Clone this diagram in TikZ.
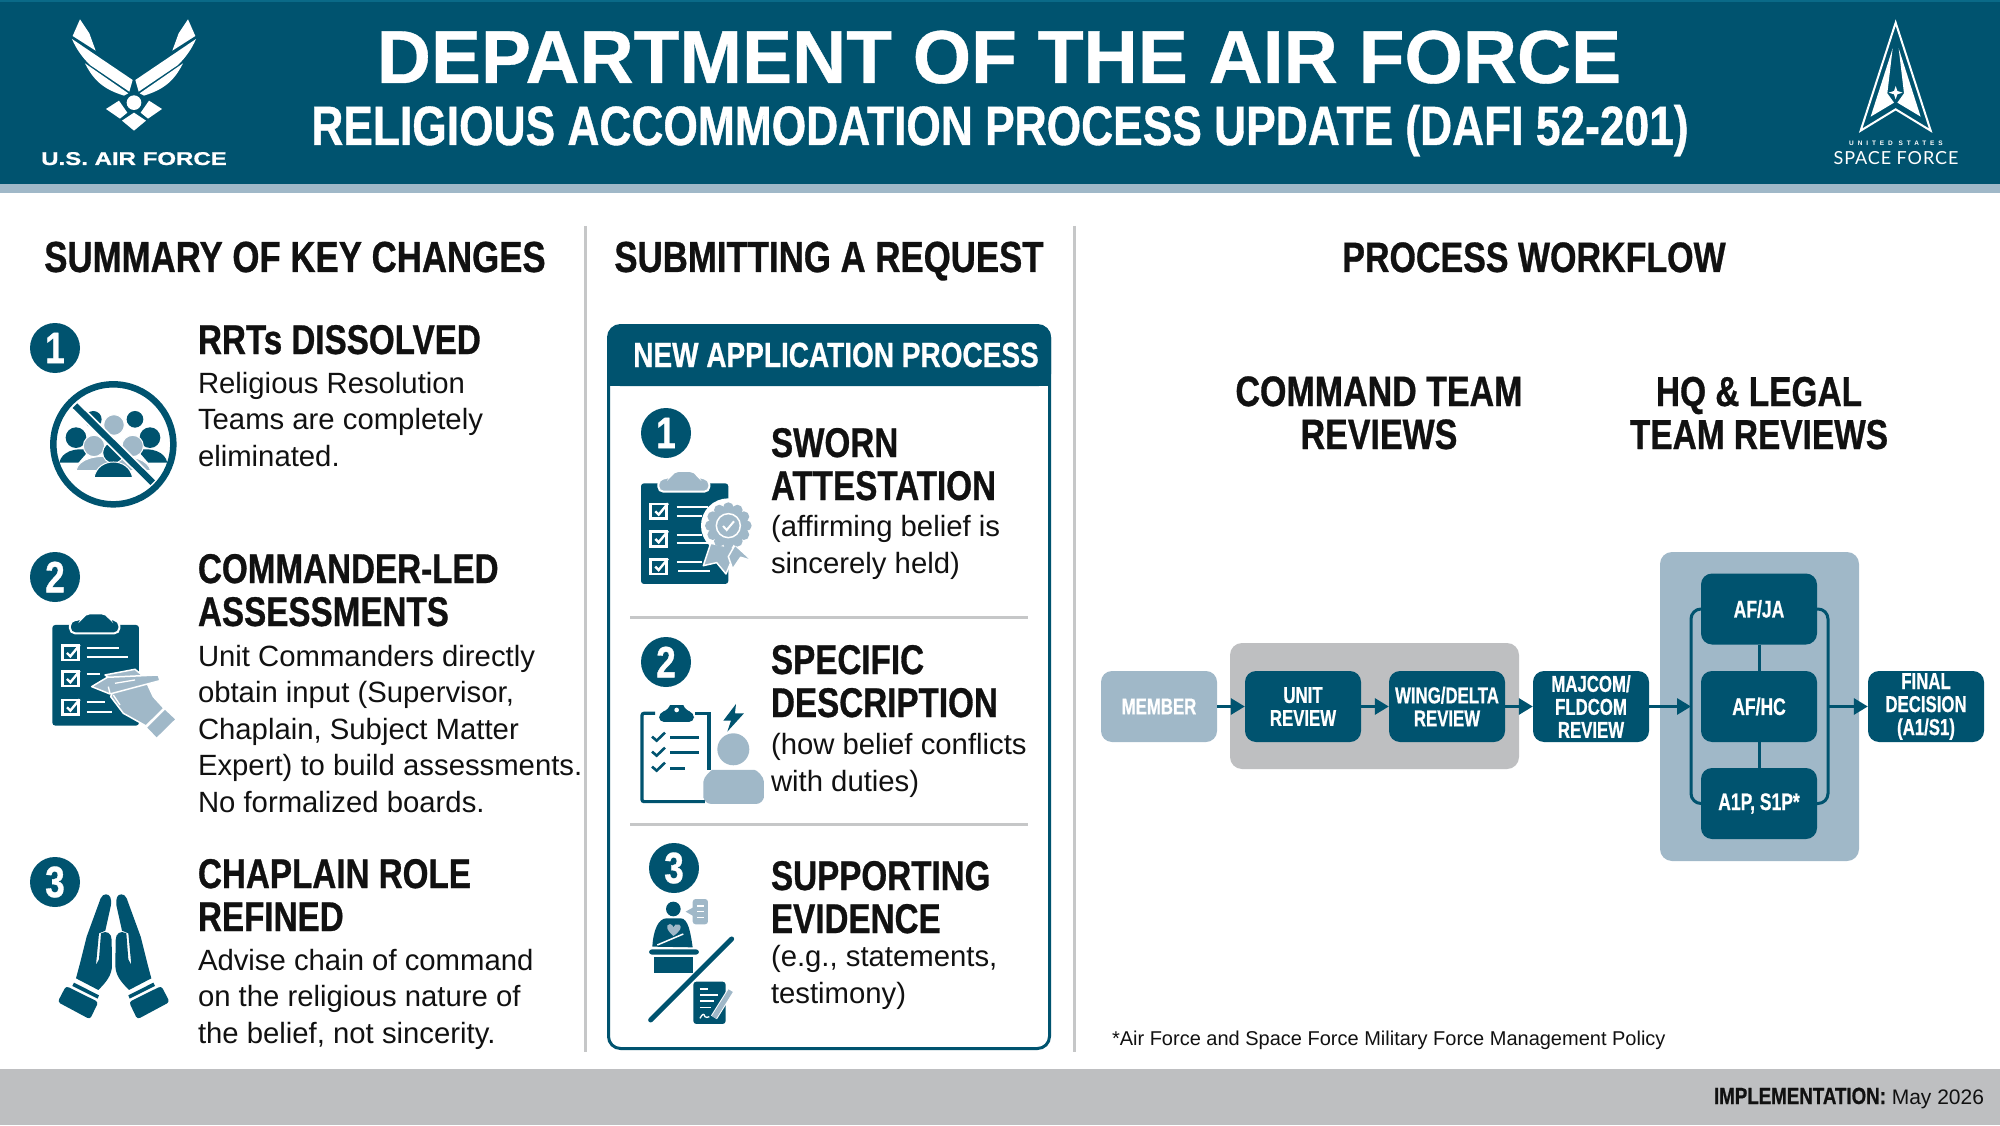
\documentclass[tikz,border=0pt]{standalone}
\usepackage{fontspec}
\usetikzlibrary{arrows.meta}
\setmainfont{Liberation Sans}[BoldFeatures={FakeBold=0.5}]
\newfontfamily\cond[FakeStretch=0.8,BoldFeatures={FakeBold=0.7}]{Liberation Sans}
\newfontfamily\condf[FakeStretch=0.73,BoldFeatures={FakeBold=0.7}]{Liberation Sans}
\newfontfamily\afwide[FakeStretch=1.3,BoldFeatures={FakeBold=0.8}]{Liberation Sans}
\newfontfamily\sfwide[LetterSpace=60]{Liberation Sans}
\newfontfamily\spf[LetterSpace=5]{Lato}
\definecolor{dk}{HTML}{00536F}
\definecolor{dktop}{HTML}{0A6A88}
\definecolor{lt}{HTML}{A0B8C8}
\definecolor{gr}{HTML}{BEBFC1}
\definecolor{sep}{HTML}{C6C7C8}
\definecolor{ink}{HTML}{111111}
\newcommand{\fs}[2]{\fontsize{#1}{#2}\selectfont}
\tikzset{
  txt/.style={inner sep=0pt,outer sep=0pt,text=ink},
  sectionhead/.style={txt,font=\cond\bfseries\fs{43.5}{44},anchor=base},
  subhead/.style={txt,font=\cond\bfseries\fs{41.5}{43},align=left,anchor=base west},
  colhead/.style={txt,font=\cond\bfseries\fs{42.5}{43},align=center,anchor=base},
  bodytext/.style={txt,font=\fs{29.3}{36.4},align=left,anchor=base west},
  badge/.style={circle,fill=dk,minimum size=50pt,inner sep=0pt,text=white,font=\cond\bfseries\fs{44}{44}},
  flowbox/.style={rectangle,rounded corners=11pt,fill=dk,minimum width=116pt,minimum height=71pt,inner sep=0pt,text=white,align=center,font=\condf\bfseries\fs{23}{23}},
  panel/.style={rectangle,rounded corners=12pt,inner sep=0pt},
  link/.style={draw=dk,line width=3pt},
  flow/.style={link,-{Triangle[length=14pt,width=16pt]}},
  thin white/.style={draw=white,line width=2.4pt},
  iconline/.style={draw=white,line width=2.2pt},
}
\newcommand{\handshape}{%
  \fill[dk] (228,133) .. controls (240,133) and (245,145) .. (243,165) -- (226,242) -- (207,250) -- (198,345) -- (207,328) -- (213,250) .. controls (230,240) and (245,250) .. (245,270) -- (246,345) .. controls (246,375) and (230,395) .. (205,420) -- (138,385) -- (150,340) -- (170,260) -- (212,145) .. controls (216,136) and (222,133) .. (228,133) -- cycle;
  \fill[dk] (132,398) -- (207,436) -- (203,446) -- (127,408) -- cycle;
  \fill[dk,rounded corners=3pt] (108,408) -- (205,456) -- (180,508) -- (83,456) -- cycle;
}
\newcommand{\checkbox}[2]{%
  \draw[thin white] (#1,#2) rectangle ++(48,44);
  \draw[draw=white,line width=2.4pt] (#1+14,#2+22) -- (#1+24,#2+32) -- (#1+52,#2-2);
}
\begin{document}
\begin{tikzpicture}[x=1pt,y=-1pt]
\useasboundingbox (0,0) rectangle (2000,1126);
\fill[white] (0,0) rectangle (2000,1126);
% header and footer
\fill[dk] (0,0) rectangle (2000,184);
\fill[dktop] (0,0) rectangle (2000,2);
\fill[lt] (0,184) rectangle (2000,193);
\fill[gr] (0,1069) rectangle (2000,1125);
\node[txt,text=white,font=\bfseries\fs{75}{75},anchor=base] (title) at (999,83) {DEPARTMENT OF THE AIR FORCE};
\node[txt,text=white,font=\cond\bfseries\fs{55.4}{56},anchor=base] (subtitle) at (1000,145) {RELIGIOUS ACCOMMODATION PROCESS UPDATE (DAFI 52-201)};
% air force logo
\foreach \flip/\sh in {1/0,-1/268}{
\begin{scope}[shift={(\sh,0)},xscale=\flip*0.3333,yscale=0.3333]
  \fill[white] (240,58) -- (268,100) -- (287,152) -- (218,108) -- cycle;
  \fill[white] (216,117) -- (398,240) -- (388,275) -- (270,195) .. controls (245,170) and (228,145) .. (216,117) -- cycle;
  \fill[white] (255,190) -- (385,280) -- (372,287) .. controls (320,270) and (285,250) .. (255,190) -- cycle;
  \fill[white] (318,327) -- (357,302) -- (382,338) -- (360,356) -- cycle;
\end{scope}}
\begin{scope}[xscale=0.3333,yscale=0.3333]
  \fill[white] (402,308) circle (22);
  \fill[white] (402,338) -- (438,362) -- (402,392) -- (366,362) -- cycle;
\end{scope}
\node[txt,text=white,font=\afwide\bfseries\fs{18.5}{19},anchor=base] (aflabel) at (134,165) {U.S. AIR FORCE};
% space force logo
\begin{scope}[shift={(1780,0)},scale=0.3333]
  \draw[white,line width=2pt,line join=miter] (347,68) -- (452,392) -- (347,328) -- (242,392) -- cycle;
  \fill[white] (338,145) -- (272,350) -- (342,308) -- (322,280) -- cycle;
  \fill[white] (356,145) -- (422,350) -- (352,308) -- (372,280) -- cycle;
  \fill[white] (347,258) -- (352,273) -- (368,278) -- (352,283) -- (347,298) -- (342,283) -- (326,278) -- (342,273) -- cycle;
\end{scope}
\node[txt,text=white,font=\sfwide\bfseries\fs{6.5}{7},anchor=base] (sflabel) at (1896,146) {UNITED STATES};
\node[txt,text=white,font=\spf\fs{18}{18},anchor=base] (sfname) at (1896,165) {SPACE FORCE};
% separators
\draw[sep,line width=3pt] (585,226) -- (585,1052);
\draw[sep,line width=3pt] (1074,226) -- (1074,1052);
% section heads
\node[sectionhead] (h1) at (295,272) {SUMMARY OF KEY CHANGES};
\node[sectionhead] (h2) at (829,272) {SUBMITTING A REQUEST};
\node[sectionhead,font=\cond\bfseries\fs{42.5}{44}] (h3) at (1534,272) {PROCESS WORKFLOW};
% left column
\node[badge] (b1) at (55,348) {1};
\node[subhead] (c1) at (198,354) {RRTs DISSOLVED};
\node[bodytext] (t1) at (198,466) {Religious Resolution\\Teams are completely\\eliminated.};
\node[badge] (b2) at (55,577) {2};
\node[subhead] (c2) at (198,626) {COMMANDER-LED\\ASSESSMENTS};
\node[bodytext] (t2) at (198,812) {Unit Commanders directly\\obtain input (Supervisor,\\Chaplain, Subject Matter\\Expert) to build assessments.\\No formalized boards.};
\node[badge] (b3) at (55,882) {3};
\node[subhead] (c3) at (198,931) {CHAPLAIN ROLE\\REFINED};
\node[bodytext] (t3) at (198,1043) {Advise chain of command\\on the religious nature of\\the belief, not sincerity.};
% icon: no groups
\begin{scope}[shift={(20,300)},scale=0.3333]
  \fill[dk] (220,358) circle (25) (345,358) circle (25);
  \fill[dk] (168,413) circle (31) (390,413) circle (31);
  \fill[dk] (118,488) .. controls (125,455) and (165,442) .. (208,450) -- (175,488) -- cycle;
  \fill[dk] (442,488) .. controls (435,455) and (395,442) .. (352,450) -- (385,488) -- cycle;
  \filldraw[lt,draw=white,line width=1pt] (282,375) circle (31);
  \filldraw[lt,draw=white,line width=1pt] (168,512) .. controls (175,475) and (230,465) .. (280,470) .. controls (340,465) and (385,480) .. (392,512) -- cycle;
  \filldraw[lt,draw=white,line width=1pt] (222,438) circle (32) (338,438) circle (32);
  \filldraw[dk,draw=white,line width=1pt] (280,458) circle (32);
  \filldraw[dk,draw=white,line width=1pt] (222,533) .. controls (228,500) and (255,486) .. (280,486) .. controls (305,486) and (332,500) .. (338,533) -- cycle;
  \draw[white,line width=10pt] (165,317) -- (398,548);
  \draw[dk,line width=6.5pt] (165,317) -- (398,548);
  \draw[dk,line width=6.5pt] (280,433) circle (180);
\end{scope}
% icon: clipboard and hand
\begin{scope}[shift={(20,300)},scale=0.3333]
  \fill[dk,rounded corners=3pt] (97,975) rectangle (357,1277);
  \filldraw[dk,draw=white,line width=2pt,rounded corners=5pt] (150,1000) -- (150,962) -- (185,958) -- (195,940) -- (260,940) -- (270,958) -- (298,962) -- (298,1000) -- cycle;
  \checkbox{127}{1037}
  \checkbox{127}{1115}
  \checkbox{127}{1200}
  \draw[iconline] (200,1043) -- (297,1043) (200,1070) -- (325,1070) (200,1122) -- (240,1122) (200,1207) -- (255,1207) (200,1235) -- (275,1235);
  \filldraw[lt,draw=white,line width=1.5pt,line join=round] (255,1125) -- (345,1108) -- (372,1130) -- (400,1190) -- (432,1225) -- (378,1278) -- (310,1240) -- (272,1190) -- (290,1150) -- cycle;
  \filldraw[lt,draw=white,line width=1.5pt,line join=round] (215,1160) -- (262,1132) -- (415,1125) -- (420,1142) -- (270,1182) -- cycle;
  \draw[white,line width=1.3pt] (285,1150) -- (345,1140) (280,1185) -- (300,1215) (265,1160) -- (270,1180);
  \fill[lt] (435,1230) -- (465,1258) -- (410,1312) -- (382,1283) -- cycle;
\end{scope}
% icon: praying hands
\begin{scope}[shift={(30,850)},scale=0.3333]\handshape\end{scope}
\begin{scope}[shift={(197.33,850)},xscale=-0.3333,yscale=0.3333]\handshape\end{scope}
% middle panel
\node[panel,draw=dk,line width=3pt,fill=white,minimum width=441pt,minimum height=723pt] (apppanel) at (829,687) {};
\fill[dk,rounded corners=12pt] (608,325) rectangle (1051,386);
\fill[dk] (608,360) rectangle (1051,386);
\node[txt,text=white,font=\cond\bfseries\fs{35}{36},anchor=base] (apphead) at (836,367) {NEW APPLICATION PROCESS};
\draw[sep,line width=3pt] (630,617) -- (1028,617);
\draw[sep,line width=3pt] (630,824) -- (1028,824);
\node[badge] (m1) at (666,433) {1};
\node[subhead] (s1) at (771,500) {SWORN\\ATTESTATION};
\node[bodytext] (d1) at (771,573) {(affirming belief is\\sincerely held)};
\node[badge] (m2) at (666,662) {2};
\node[subhead] (s2) at (771,717) {SPECIFIC\\DESCRIPTION};
\node[bodytext] (d2) at (771,791) {(how belief conflicts\\with duties)};
\node[badge] (m3) at (674,868) {3};
\node[subhead] (s3) at (771,933) {SUPPORTING\\EVIDENCE};
\node[bodytext] (d3) at (771,1003) {(e.g., statements,\\testimony)};
% icon: sworn attestation
\begin{scope}[shift={(620,400)},scale=0.3333]
  \fill[dk,rounded corners=3pt] (63,250) rectangle (325,552);
  \filldraw[lt,draw=white,line width=2pt,rounded corners=5pt] (115,275) -- (115,238) -- (150,232) -- (160,213) -- (225,213) -- (235,232) -- (268,238) -- (268,275) -- cycle;
  \checkbox{92}{312}
  \checkbox{92}{395}
  \checkbox{92}{478}
  \draw[iconline] (170,322) -- (265,322) (170,347) -- (245,347) (170,405) -- (245,405) (170,430) -- (265,430) (170,487) -- (245,487) (175,512) -- (270,512);
  \fill[white] (325,377) circle (82);
  \filldraw[lt,draw=white,line width=1.5pt,line join=round] (272,430) -- (250,497) -- (290,488) -- (318,522) -- (350,445) -- cycle;
  \filldraw[lt,draw=white,line width=1.5pt,line join=round] (345,435) -- (396,482) -- (362,472) -- (338,507) -- (325,470) -- cycle;
  \foreach \a in {0,30,...,330}{\fill[lt] (325,377) ++(\a:54) circle (16);}
  \fill[lt] (325,377) circle (56);
  \draw[white,line width=1.5pt] (325,377) circle (36);
  \draw[white,line width=2pt] (309,378) -- (320,390) -- (342,364);
\end{scope}
% icon: specific description
\begin{scope}[shift={(620,400)},scale=0.3333]
  \draw[dk,line width=3.2pt,rounded corners=2pt] (105,940) -- (66,940) -- (66,1205) -- (255,1205);
  \draw[dk,line width=3.2pt] (225,940) -- (267,940) -- (267,1110);
  \fill[dk,rounded corners=5pt] (117,966) -- (117,938) -- (145,930) .. controls (150,915) and (190,915) .. (195,930) -- (222,938) -- (222,966) -- cycle;
  \fill[white] (170,930) circle (7);
  \draw[dk,line width=2.6pt] (96,1010) -- (110,1022) -- (135,998) (96,1055) -- (110,1067) -- (135,1043) (96,1100) -- (110,1112) -- (135,1088);
  \draw[dk,line width=3.2pt] (150,1013) -- (238,1013) (150,1058) -- (238,1058) (150,1105) -- (195,1105);
  \fill[dk] (348,912) -- (310,962) -- (333,962) -- (322,995) -- (372,940) -- (345,940) -- cycle;
  \fill[lt] (340,1048) circle (48);
  \fill[lt,rounded corners=8pt] (250,1212) -- (250,1170) .. controls (250,1130) and (275,1110) .. (300,1110) -- (380,1110) .. controls (410,1110) and (432,1130) .. (432,1170) -- (432,1212) -- cycle;
\end{scope}
% icon: supporting evidence
\begin{scope}[shift={(620,830)},scale=0.3333]
  \fill[dk] (160,237) circle (22);
  \fill[lt,rounded corners=3pt] (218,207) rectangle (264,283);
  \fill[lt] (197,245) -- (220,232) -- (220,258) -- cycle;
  \draw[white,line width=1.2pt] (232,228) -- (252,228) (232,245) -- (252,245) (232,262) -- (252,262);
  \fill[dk] (97,350) .. controls (100,300) and (115,265) .. (140,265) -- (182,265) .. controls (205,265) and (212,310) .. (218,352) -- cycle;
  \fill[lt] (160,318) .. controls (140,300) and (135,285) .. (150,282) .. controls (155,282) and (160,288) .. (160,292) .. controls (162,284) and (170,280) .. (178,284) .. controls (188,290) and (180,305) .. (160,318) -- cycle;
  \draw[white,line width=1.5pt] (112,345) -- (190,312);
  \fill[dk,rounded corners=3pt] (87,358) rectangle (237,374);
  \fill[dk] (103,380) rectangle (220,428);
  \draw[dk,line width=5pt,line cap=round] (92,570) -- (335,327);
  \fill[dk,rounded corners=3pt] (220,455) rectangle (317,582);
  \draw[white,line width=1.6pt] (240,477) -- (265,477) (240,495) -- (295,495) (240,513) -- (282,513) (240,532) -- (272,532);
  \draw[white,line width=1.3pt] (240,565) .. controls (248,550) and (252,550) .. (255,560) .. controls (258,566) and (262,560) .. (268,560);
  \draw[white,line width=7pt] (282,562) -- (332,482);
  \draw[lt,line width=5pt] (282,562) -- (332,482);
\end{scope}
% right column heads
\node[colhead] (rh1) at (1379,449) {COMMAND TEAM\\REVIEWS};
\node[colhead,font=\cond\bfseries\fs{41.8}{43}] (rh2) at (1759,449) {HQ \& LEGAL\\TEAM REVIEWS};
% workflow
\node[panel,fill=gr,minimum width=289pt,minimum height=126pt] (cmdgroup) at (1374.5,706) {};
\node[panel,fill=lt,minimum width=199pt,minimum height=309pt] (hqgroup) at (1759.5,706.5) {};
\node[flowbox,fill=lt] (member) at (1159,706.5) {MEMBER};
\node[flowbox] (unit) at (1303,706.5) {UNIT\\REVIEW};
\node[flowbox] (wing) at (1447,706.5) {WING/DELTA\\REVIEW};
\node[flowbox] (maj) at (1591,706.5) {MAJCOM/\\FLDCOM\\REVIEW};
\node[flowbox,font=\condf\bfseries\fs{24}{24}] (ja) at (1759,609) {AF/JA};
\node[flowbox,font=\condf\bfseries\fs{24}{24}] (hc) at (1759,706.5) {AF/HC};
\node[flowbox,font=\condf\bfseries\fs{24}{24}] (a1p) at (1759,803.5) {A1P, S1P*};
\node[flowbox] (final) at (1926,706.5) {FINAL\\DECISION\\(A1/S1)};
\coordinate (busL) at (1691,706.5);
\coordinate (busR) at (1828,706.5);
\draw[flow] (member.east) -- (unit.west);
\draw[flow] (unit.east) -- (wing.west);
\draw[flow] (wing.east) -- (maj.west);
\draw[flow] (maj.east) -- (busL);
\draw[flow] (busR) -- (final.west);
\draw[link] (ja.south) -- (hc.north);
\draw[link] (hc.south) -- (a1p.north);
\draw[link,rounded corners=10pt] (ja.west) -| (busL) |- (a1p.west);
\draw[link,rounded corners=10pt] (ja.east) -| (busR) |- (a1p.east);
% footnote and footer
\node[txt,font=\fs{20}{24},anchor=base west] (note) at (1112,1045) {*Air Force and Space Force Military Force Management Policy};
\node[txt,font=\fs{21}{24},anchor=base east] (impl) at (1984,1104) {{\cond\bfseries\fs{23.4}{24}IMPLEMENTATION:} May 2026};
\end{tikzpicture}
\end{document}
